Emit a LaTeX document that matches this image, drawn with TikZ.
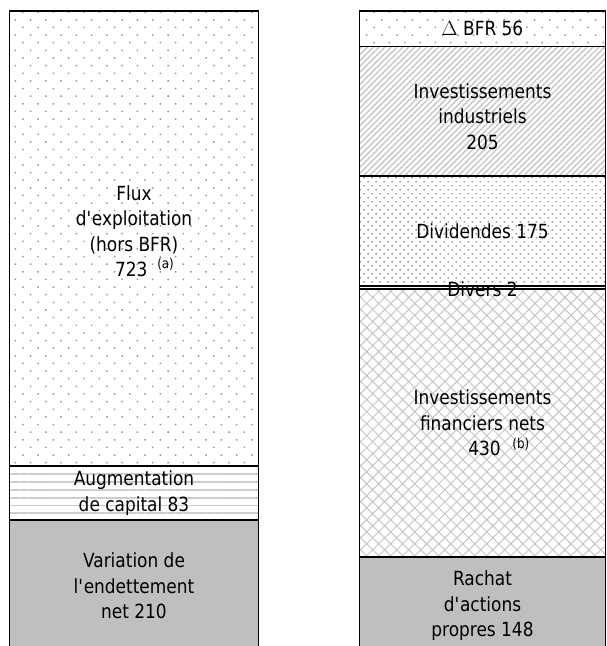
\documentclass[tikz,border=0pt]{standalone}
\usepackage{fontspec}
\setmainfont[FakeStretch=0.87]{DejaVu Sans}
\usetikzlibrary{positioning,patterns.meta}

\newcommand{\apos}{\textquotesingle}

\begin{document}
\begin{tikzpicture}[
x=1pt, y=-1pt,
every node/.style={font=\fontsize{19.5}{25.5}\selectfont, align=center},
bloc/.style={draw, line width=1.4pt, inner sep=0pt, outer sep=0pt, anchor=north},
gauche/.style={bloc, minimum width=249pt},
droite/.style={bloc, minimum width=246pt},
pointille/.style={pattern={Dots[radius=1.05pt, distance=10.8pt, angle=45]}, pattern color=gray!85},
pointserre/.style={pattern={Dots[radius=1.05pt, distance=5.66pt, angle=45]}, pattern color=gray!85},
hachure/.style={pattern={Lines[angle=45, distance=4.2pt, line width=1.4pt]}, pattern color=gray!45},
quadrille/.style={pattern={Hatch[angle=45, distance=8.5pt, line width=1pt]}, pattern color=gray!45},
rayure/.style={pattern={Lines[angle=0, distance=7.8pt, line width=1.8pt]}, pattern color=gray!40},
gris/.style={fill=black!25}
]

    \clip (0,0) rectangle (606,646);

    % Ressources
    \node[gauche, pointille, minimum height=455pt] (flux) at (134,11) {};
    \node[gauche, rayure, minimum height=54pt, below=0pt of flux] (capital) {};
    \node[gauche, gris, minimum height=132pt, below=0pt of capital] (endet) {};

    % Emplois
    \node[droite, pointille, minimum height=35.5pt] (bfr) at (482.5,11) {};
    \node[droite, hachure, minimum height=129.5pt, below=0pt of bfr] (indus) {};
    \node[droite, pointserre, minimum height=110pt, below=0pt of indus] (divid) {};
    \node[droite, minimum height=3pt, below=0pt of divid] (divers) {};
    \node[droite, quadrille, minimum height=268pt, below=0pt of divers] (finan) {};
    \node[droite, gris, minimum height=94pt, below=0pt of finan] (rachat) {};

    % Textes
    \node (fluxtxt) at ([yshift=7.5pt]flux.center)
    {Flux\\d\apos exploitation\\(hors BFR)\\\hspace*{1.1em}723\hspace{0.5em}\textsuperscript{(a)}};
    \node (capitaltxt) at (capital.center) {Augmentation\\de capital 83};
    \node (endettxt) at (endet.center) {Variation de\\l\apos endettement\\net 210};

    \node (bfrtxt) at (bfr.center) {$\Delta$ BFR 56};
    \node (industxt) at ([yshift=-5pt]indus.center) {Investissements\\industriels\\205};
    \node (dividtxt) at (divid.center) {Dividendes 175};
    \node (diverstxt) at ([yshift=-2pt]divers.center) {Divers 2};
    \node (finantxt) at (finan.center)
    {Investissements\\financiers nets\\\hspace*{1.7em}430\hspace{0.6em}\textsuperscript{(b)}};
    \node (rachattxt) at ([yshift=-2pt]rachat.center) {Rachat\\d\apos actions\\propres 148};

\end{tikzpicture}
\end{document}
